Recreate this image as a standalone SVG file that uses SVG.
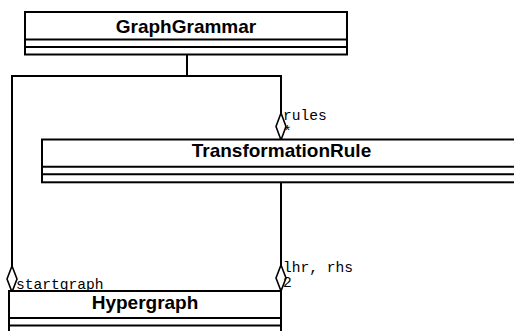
<svg xmlns="http://www.w3.org/2000/svg" width="514" height="331" viewBox="0 0 514 331">
<style>
.box{fill:#fff;stroke:#000;stroke-width:2}
.sep{stroke:#000;stroke-width:2;fill:none}
.title{font-family:"Liberation Sans",Arial,sans-serif;font-weight:bold;font-size:19px;text-anchor:middle;fill:#000}
.lbl{font-family:"Liberation Mono","Courier New",monospace;font-size:14.6px;fill:#000}
.edge{stroke:#000;stroke-width:2;fill:none}
.dia{fill:#fff;stroke:#000;stroke-width:1.6}
</style>
<rect width="514" height="331" fill="#fff"/>
<g id="connectors">
<polyline class="edge" points="187,54.5 187,76"/>
<polyline class="edge" points="12,292 12,76 281,76 281,140"/>
<polyline class="edge" points="281,182.5 281,291"/>
<polygon class="dia" points="281,113 286,126.5 281,140 276,126.5"/>
<polygon class="dia" points="281,265 286,278 281,291 276,278"/>
<polygon class="dia" points="12,266 17,279 12,292 7,279"/>
<text class="lbl" x="283" y="120">rules</text>
<text class="lbl" x="283" y="136">*</text>
<text class="lbl" x="283" y="272">lhr, rhs</text>
<text class="lbl" x="283" y="287">2</text>
<text class="lbl" x="16" y="289">startgraph</text>
</g>
<g id="GraphGrammar">
<rect class="box" x="25" y="12" width="322" height="42.5"/>
<line class="sep" x1="25" y1="39.5" x2="347" y2="39.5"/>
<line class="sep" x1="25" y1="47" x2="347" y2="47"/>
<text class="title" x="186" y="32.5">GraphGrammar</text>
</g>
<g id="TransformationRule">
<rect class="box" x="42" y="139.5" width="480" height="42.8"/>
<line class="sep" x1="42" y1="166.7" x2="522" y2="166.7"/>
<line class="sep" x1="42" y1="174.3" x2="522" y2="174.3"/>
<text class="title" x="281.5" y="157">TransformationRule</text>
</g>
<g id="Hypergraph">
<rect class="box" x="9" y="291" width="272" height="43"/>
<line class="sep" x1="9" y1="318" x2="281" y2="318"/>
<line class="sep" x1="9" y1="325.5" x2="281" y2="325.5"/>
<text class="title" x="145" y="308.5">Hypergraph</text>
</g>
</svg>
